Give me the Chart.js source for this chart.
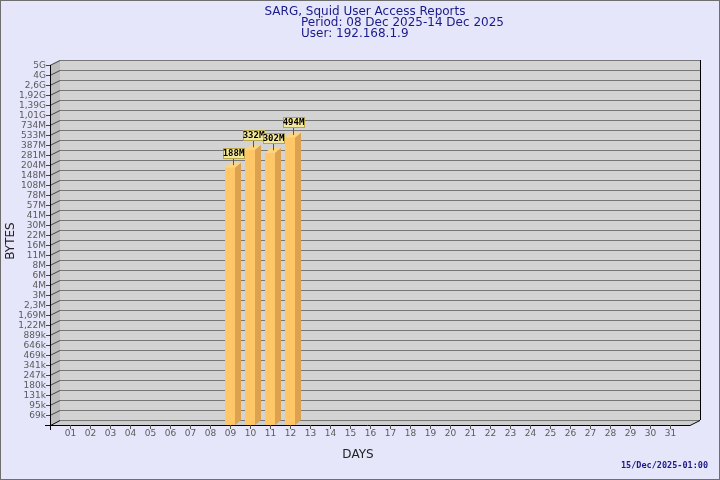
<!DOCTYPE html>
<html>
<head>
<meta charset="utf-8">
<script src="https://cdn.jsdelivr.net/npm/chart.js@4"></script>
<style>
  html, body { margin: 0; padding: 0; background: #e6e6fa; }
  canvas { display: block; }
</style>
</head>
<body>
<canvas id="chart" width="720" height="480"></canvas>
<script>
//Data
const days = ['01', '02', '03', '04', '05', '06', '07', '08', '09', '10', '11', '12', '13', '14', '15', '16',
    '17', '18', '19', '20', '21', '22', '23', '24', '25', '26', '27', '28', '29', '30', '31'];
const bytes = [null, null, null, null, null, null, null, null, 188e6, 332e6, 302e6, 494e6, null, null, null, null,
    null, null, null, null, null, null, null, null, null, null, null, null, null, null, null];
const barLabels = ['', '', '', '', '', '', '', '', '188M', '332M', '302M', '494M', '', '', '', '',
    '', '', '', '', '', '', '', '', '', '', '', '', '', '', ''];

//Y ticks, bottom to top (each step is the same factor)
const yTickLabels = ['69k', '95k', '131k', '180k', '247k', '341k', '469k', '646k', '889k', '1,22M', '1,69M', '2,3M',
    '3M', '4M', '6M', '8M', '11M', '16M', '22M', '30M', '41M', '57M', '78M', '108M', '148M', '204M', '281M',
    '387M', '533M', '734M', '1,01G', '1,39G', '1,92G', '2,6G', '4G', '5G'];
const yTop = 5e9;
const yStep = Math.pow(5e9 / 69e3, 1 / 35);
const yTickValues = yTickLabels.map((l, i) => yTop / Math.pow(yStep, yTickLabels.length - 1 - i));
const yMin = yTop / Math.pow(yStep, yTickLabels.length);

//3D depth
const DX = 10, DY = -5;
const BDX = 6, BDY = -5;

const frame3d = {
    id: 'frame3d',
    beforeDraw(chart) {
        const c = chart.ctx;
        const w = chart.width, h = chart.height;
        c.save();
        c.fillStyle = '#e6e6fa';
        c.fillRect(0, 0, w, h);
        c.strokeStyle = '#6e6e6e';
        c.lineWidth = 1;
        c.strokeRect(0.5, 0.5, w - 1, h - 1);

        //titles
        c.fillStyle = '#1a1a8a';
        c.font = '12px "DejaVu Sans"';
        c.textBaseline = 'middle';
        c.textAlign = 'center';
        c.fillText('SARG, Squid User Access Reports', 365, 11.5);
        c.textAlign = 'left';
        c.fillText('Period: 08 Dec 2025-14 Dec 2025', 301, 22.5);
        c.fillText('User: 192.168.1.9', 301, 33.5);

        c.font = 'bold 8.5px "DejaVu Sans Mono"';
        c.textAlign = 'right';
        c.fillText('15/Dec/2025-01:00', 708, 466);

        c.fillStyle = '#222';
        c.font = '12px "DejaVu Sans"';
        c.textAlign = 'center';
        c.fillText('DAYS', 358, 455);
        c.save();
        c.translate(11, 241);
        c.rotate(-Math.PI / 2);
        c.fillText('BYTES', 0, 0);
        c.restore();
        c.restore();
    },
    beforeDatasetsDraw(chart) {
        const c = chart.ctx;
        const a = chart.chartArea;
        const y = chart.scales.y;
        const x = chart.scales.x;
        const fl = a.left - 10, fr = a.right + 10, ft = a.top, fb = a.bottom;
        c.save();
        //back wall
        c.fillStyle = '#d3d3d3';
        c.fillRect(fl + DX, ft + DY, fr - fl, fb - ft);
        //left wall
        c.fillStyle = '#bdbdbd';
        c.beginPath();
        c.moveTo(fl, ft); c.lineTo(fl + DX, ft + DY); c.lineTo(fl + DX, fb + DY); c.lineTo(fl, fb);
        c.closePath(); c.fill();
        //floor
        c.fillStyle = '#cdcdcd';
        c.beginPath();
        c.moveTo(fl, fb); c.lineTo(fl + DX, fb + DY); c.lineTo(fr + DX, fb + DY); c.lineTo(fr, fb);
        c.closePath(); c.fill();

        //grid lines and y ticks
        c.lineWidth = 1;
        c.font = '9px "DejaVu Sans"';
        c.textAlign = 'right';
        c.textBaseline = 'middle';
        yTickValues.forEach((v, i) => {
            const py = Math.round(y.getPixelForValue(v)) + 0.5;
            c.strokeStyle = '#767676';
            c.beginPath();
            c.moveTo(fl + DX, py + DY); c.lineTo(fr + DX, py + DY);
            c.stroke();
            c.strokeStyle = '#444';
            c.beginPath();
            c.moveTo(fl - 4, py); c.lineTo(fl, py); c.lineTo(fl + DX, py + DY);
            c.stroke();
            c.fillStyle = '#5a5a5a';
            c.fillText(yTickLabels[i], fl - 4, py);
        });
        c.strokeStyle = '#767676';
        c.beginPath();
        c.moveTo(fl + DX, fb + DY + 0.5); c.lineTo(fr + DX, fb + DY + 0.5);
        c.stroke();

        //axes
        c.strokeStyle = '#000';
        c.beginPath();
        c.moveTo(fl + 0.5, ft); c.lineTo(fl + 0.5, fb + 5);
        c.moveTo(fl - 5, fb + 0.5); c.lineTo(fr, fb + 0.5); c.lineTo(fr + DX, fb + DY + 0.5);
        c.moveTo(fr + DX + 0.5, fb + DY); c.lineTo(fr + DX + 0.5, ft + DY);
        c.moveTo(fl + 0.5, fb + 0.5); c.lineTo(fl + DX, fb + DY + 0.5);
        c.stroke();

        //x ticks
        c.textAlign = 'center';
        days.forEach((d, i) => {
            const px = Math.round(x.getPixelForValue(i)) + 0.5;
            c.strokeStyle = '#555';
            c.beginPath();
            c.moveTo(px, fb); c.lineTo(px, fb + 4);
            c.stroke();
            c.fillStyle = '#5a5a5a';
            c.fillText(d, px, fb + 9);
        });
        c.restore();
    },
    afterDatasetsDraw(chart) {
        const c = chart.ctx;
        const meta = chart.getDatasetMeta(0);
        c.save();
        meta.data.forEach((bar, i) => {
            if (bytes[i] == null) return;
            const l = bar.x - bar.width / 2, r = bar.x + bar.width / 2;
            const t = bar.y, b = bar.base;
            //side
            c.fillStyle = '#dca24f';
            c.beginPath();
            c.moveTo(r, t); c.lineTo(r + BDX, t + BDY); c.lineTo(r + BDX, b + BDY); c.lineTo(r, b);
            c.closePath(); c.fill();
            //top
            c.fillStyle = '#ffd47e';
            c.beginPath();
            c.moveTo(l, t); c.lineTo(l + BDX, t + BDY); c.lineTo(r + BDX, t + BDY); c.lineTo(r, t);
            c.closePath(); c.fill();

            //value label
            const cx = Math.round(bar.x + BDX / 2) + 0.5;
            const txt = barLabels[i];
            c.font = 'bold 9px "DejaVu Sans Mono"';
            const tw = Math.ceil(c.measureText(txt).width);
            const bb = Math.round(t + BDY - 4);
            c.strokeStyle = '#555';
            c.beginPath();
            c.moveTo(cx, bb); c.lineTo(cx, t + BDY / 2);
            c.stroke();
            c.fillStyle = '#f3e89c';
            c.fillRect(Math.round(cx - tw / 2), bb - 11, tw, 11);
            c.strokeStyle = '#b5a546';
            c.strokeRect(Math.round(cx - tw / 2) + 0.5, bb - 11 + 0.5, tw - 1, 10);
            c.fillStyle = '#000';
            c.textAlign = 'center';
            c.textBaseline = 'middle';
            c.fillText(txt, cx, bb - 5);
        });
        c.restore();
    }
};

const myChart = new Chart(document.querySelector('#chart'), {
    type: 'bar',
    data: {
        labels: days,
        datasets: [{
            data: bytes,
            backgroundColor: '#ffc768',
            borderWidth: 0,
            categoryPercentage: 1,
            barPercentage: 0.5
        }]
    },
    options: {
        responsive: false,
        devicePixelRatio: 1,
        animation: false,
        layout: {
            padding: { left: 60, right: 40, top: 65, bottom: 55 }
        },
        scales: {
            x: { display: false, offset: true },
            y: {
                display: false,
                type: 'logarithmic',
                min: yMin,
                max: yTop
            }
        },
        plugins: {
            legend: { display: false },
            tooltip: { enabled: false }
        }
    },
    plugins: [frame3d]
});
</script>
</body>
</html>
